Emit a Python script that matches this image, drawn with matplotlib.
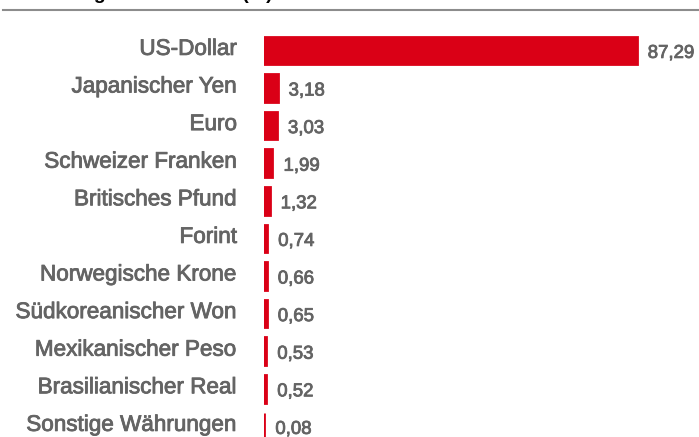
import matplotlib
matplotlib.use("Agg")
import matplotlib.pyplot as plt
import matplotlib.patheffects as pe

# currency split, values in percent
currencies = [
    "US-Dollar", "Japanischer Yen", "Euro", "Schweizer Franken",
    "Britisches Pfund", "Forint", "Norwegische Krone",
    "Südkoreanischer Won", "Mexikanischer Peso", "Brasilianischer Real",
    "Sonstige Währungen",
]
shares = [87.29, 3.18, 3.03, 1.99, 1.32, 0.74, 0.66, 0.65, 0.53, 0.52, 0.08]
value_labels = ["87,29", "3,18", "3,03", "1,99", "1,32", "0,74", "0,66",
                "0,65", "0,53", "0,52", "0,08"]
title = "Gliederung nach Devisen (%)"

RED = "#DA0016"
GREY = "#646464"
plt.rcParams["font.family"] = ["Liberation Sans", "DejaVu Sans"]

W, H = 699, 437
fig = plt.figure(figsize=(W / 100, H / 100), dpi=100)

# axes: x=0 sits at 264 px, rows every 37.6 px starting at 50.4 px
x0 = 264
ax = fig.add_axes([x0 / W, 0, 1 - x0 / W, 1])
px_per_unit = 4.27
ax.set_xlim(0, (W - x0) / px_per_unit)
row0, pitch = 50.4, 37.6
ax.set_ylim((H - row0) / pitch, -row0 / pitch)
ax.axis("off")

ypos = list(range(len(currencies)))
ax.barh(ypos, shares, height=0.73, color=RED, edgecolor=RED, linewidth=2)

thick = [pe.withStroke(linewidth=0.6, foreground=GREY)]
for y, v, lab, name in zip(ypos, shares, value_labels, currencies):
    ax.annotate(lab, xy=(v, y), xytext=(11, -3), textcoords="offset pixels",
                ha="left", va="center", fontsize=13.4, color=GREY,
                path_effects=thick)
    ax.annotate(name, xy=(0, y), xytext=(-27, 1), textcoords="offset pixels",
                ha="right", va="center", fontsize=16.2, color=GREY,
                path_effects=thick)

# title (mostly above the visible area) and rule below it
fig.text(3 / W, 1 + 1.5 / H, title, ha="left", va="baseline",
         fontsize=14, fontweight="bold", color="black")
fig.add_artist(plt.Line2D([3 / W, 1], [1 - 10 / H, 1 - 10 / H],
                          color="#8C8C8C", linewidth=1.5))

fig.savefig("out.png", dpi=100)
